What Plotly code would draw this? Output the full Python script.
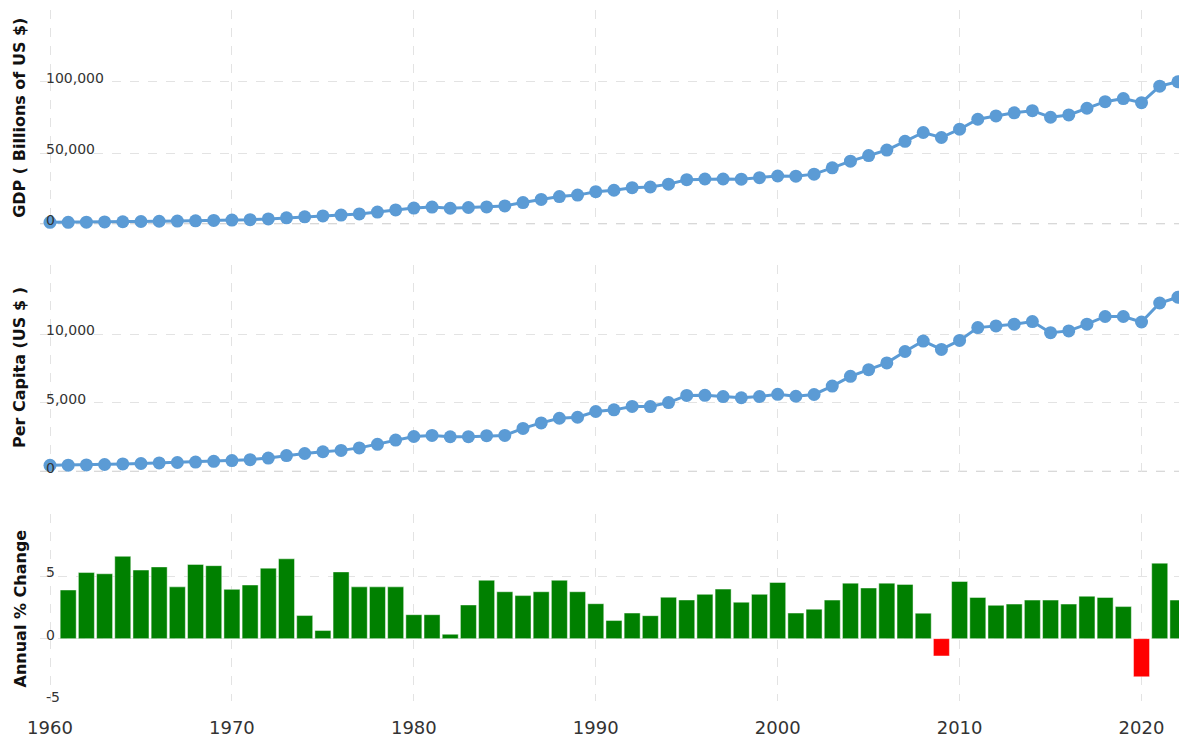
import plotly.graph_objects as go
from plotly.subplots import make_subplots

years = list(range(1960, 2023))

# GDP, billions of US $
gdp_billions = [
    1400, 1450, 1550, 1670, 1830, 1990, 2160, 2300, 2480, 2730,
    3000, 3290, 3820, 4600, 5300, 5900, 6500, 7300, 8600, 10100,
    11400, 12100, 11300, 11800, 12200, 12900, 15300, 17500, 19500, 20500,
    22900, 23900, 25700, 26200, 28200, 31300, 31800, 31800, 31700, 32700,
    33900, 33800, 35200, 39600, 44300, 48200, 52100, 58200,
    64400, 60900, 66700, 73700, 76000, 78200, 79700, 75100, 76700, 81400,
    86000, 88200, 85300, 96900, 100000,
]

# GDP per capita, US $
per_capita = [
    460, 475, 490, 520, 560, 595, 635, 665, 700, 755,
    810, 875, 990, 1170, 1320, 1450, 1550, 1730, 1990, 2300,
    2560, 2640, 2540, 2550, 2620, 2640, 3150, 3550, 3890, 3960,
    4380, 4500, 4750, 4740, 5030, 5550, 5560, 5470, 5380, 5470,
    5630, 5490, 5620, 6230, 6940, 7430, 7920, 8750,
    9510, 8900, 9560, 10490, 10610, 10740, 10930, 10120, 10250, 10740,
    11300, 11300, 10900, 12280, 12700,
]

# annual % change, 1961-2022
growth_years = years[1:]
growth_pct = [
    3.9, 5.3, 5.2, 6.6, 5.5, 5.75, 4.15, 5.95, 5.85,
    3.95, 4.3, 5.65, 6.4, 1.85, 0.65, 5.35, 4.15, 4.15, 4.15,
    1.92, 1.92, 0.35, 2.7, 4.68, 3.76, 3.45, 3.76, 4.68, 3.76,
    2.8, 1.45, 2.05, 1.84, 3.32, 3.1, 3.55, 3.97, 2.92, 3.55,
    4.5, 2.05, 2.36, 3.09, 4.45, 4.06, 4.45, 4.35, 2.04, -1.39,
    4.58, 3.3, 2.67, 2.77, 3.09, 3.09, 2.77, 3.4, 3.3, 2.57,
    -3.06, 6.05, 3.09,
]

# y tick labels drawn inside each panel
gdp_ticks = [0, 50000, 100000]
pc_ticks = [0, 5000, 10000]
growth_ticks = [-5, 0, 5]

line_color = "rgb(91,155,213)"
grid_color = "#e3e3e3"
text_color = "#333333"
font_family = "DejaVu Sans, Verdana, sans-serif"

fig = make_subplots(rows=3, cols=1, shared_xaxes=True, vertical_spacing=0.06)

fig.add_trace(
    go.Scatter(
        x=years, y=gdp_billions, mode="lines+markers",
        line=dict(color=line_color, width=3),
        marker=dict(color=line_color, size=13),
        cliponaxis=False, showlegend=False,
    ),
    row=1, col=1,
)
fig.add_trace(
    go.Scatter(
        x=years, y=per_capita, mode="lines+markers",
        line=dict(color=line_color, width=3),
        marker=dict(color=line_color, size=13),
        cliponaxis=False, showlegend=False,
    ),
    row=2, col=1,
)
bar_colors = ["#ff0000" if v < 0 else "#008000" for v in growth_pct]
fig.add_trace(
    go.Bar(
        x=growth_years, y=growth_pct,
        marker=dict(color=bar_colors, line=dict(color="rgba(255,255,255,0.45)", width=1)),
        showlegend=False,
    ),
    row=3, col=1,
)

# panel placement (paper coords)
fig.update_layout(
    yaxis=dict(domain=[0.6898, 1.0]),
    yaxis2=dict(domain=[0.3319, 0.6306]),
    yaxis3=dict(domain=[0.0, 0.2713]),
)

fig.update_xaxes(
    range=[1959.45, 2022.5], dtick=10, tick0=1960,
    showgrid=True, gridcolor=grid_color, griddash="dash", gridwidth=1,
    zeroline=False, showline=False, ticks="",
    ticklabelstandoff=14,
    tickfont=dict(size=18, color=text_color, family=font_family),
)
fig.update_xaxes(showticklabels=False, row=1, col=1)
fig.update_xaxes(showticklabels=False, row=2, col=1)

ycommon = dict(
    showgrid=True, gridcolor=grid_color, griddash="dash", gridwidth=1,
    zeroline=False, showline=False, ticks="", showticklabels=False,
)
fig.update_yaxes(range=[0, 150300], dtick=50000, row=1, col=1, **ycommon)
fig.update_yaxes(range=[0, 15030], dtick=5000, row=2, col=1, **ycommon)
fig.update_yaxes(range=[-5, 10.03], dtick=5, row=3, col=1, **ycommon)

# darker dashed baseline under the two line panels
for yref in ["y", "y2"]:
    fig.add_shape(
        type="line", xref="x domain", yref=yref, x0=0, x1=1, y0=0, y1=0,
        line=dict(color="#cccccc", width=2, dash="dash"), layer="below",
    )

# tick labels sitting just above their gridlines, inside the plot
for yref, ticks in [("y", gdp_ticks), ("y2", pc_ticks), ("y3", growth_ticks)]:
    for t in ticks:
        fig.add_annotation(
            text=f"{t:,}", xref="x domain", yref=yref, x=0, y=t,
            xanchor="left", yanchor="bottom", xshift=4, yshift=-6,
            showarrow=False,
            font=dict(size=14, color=text_color, family=font_family),
        )

titles = [
    ("GDP ( Billions of US $)", 0.844),
    ("Per Capita (US $ )", 0.482),
    ("Annual % Change", 0.134),
]
for txt, ypos in titles:
    fig.add_annotation(
        text="<b>" + txt + "</b>", xref="paper", yref="paper",
        x=-0.0174, y=ypos, xanchor="center", yanchor="middle",
        textangle=-90, showarrow=False,
        font=dict(size=16, color="#111111", family=font_family),
    )

# the page body has an 8px margin, so the figure is sized to end at the window edge
fig.update_layout(
    width=1179, height=730,
    margin=dict(l=32, r=0, t=2, b=35),
    plot_bgcolor="white", paper_bgcolor="white",
    bargap=0.12,
    font=dict(family=font_family, color=text_color),
)

fig.write_html("out.html")
